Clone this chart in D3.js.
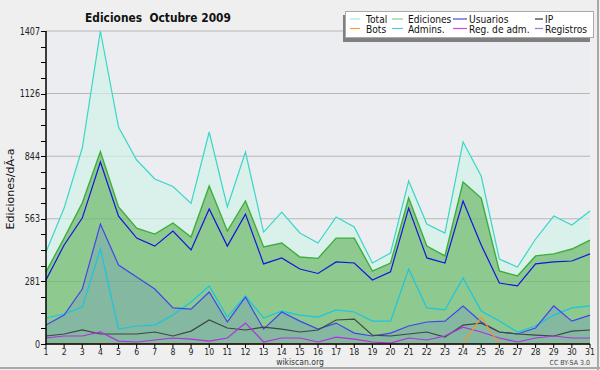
<!DOCTYPE html>
<html><head><meta charset="utf-8">
<script src="https://cdn.jsdelivr.net/npm/d3@7"></script>
<style>
html,body{margin:0;padding:0;background:#efefef;}
svg{display:block;}
text{font-family:"DejaVu Sans",sans-serif;}
</style></head>
<body>
<svg id="c" width="600" height="370"></svg>
<script>
const days = d3.range(1, 32);
const total = [414,611,881,1407,975,827,742,708,632,953,616,863,503,593,499,454,571,526,364,409,733,539,499,908,755,382,346,472,575,535,598];
const ediciones = [324,476,634,865,616,521,494,544,481,710,508,643,436,454,391,385,476,476,328,364,656,440,396,728,656,328,306,396,405,427,467];
const usuarios = [288,445,566,818,575,476,440,508,423,607,440,584,360,387,337,317,369,364,288,324,611,387,364,643,445,274,261,360,369,373,405];
const ip = [36,45,63,45,45,45,54,36,58,108,72,63,76,67,54,63,108,112,40,36,45,54,31,85,94,54,45,40,36,58,63];
const bots = [0,0,0,0,0,0,0,0,0,0,0,0,0,0,0,0,0,0,0,0,0,0,0,0,121,0,0,0,0,0,0];
const admins = [117,135,166,427,67,81,85,130,189,261,121,216,117,148,130,121,153,144,103,103,337,162,153,297,148,103,54,81,130,162,171];
const regAdm = [27,36,36,54,13,9,18,27,22,13,27,94,9,27,27,9,31,22,9,4,27,18,36,76,54,27,9,27,36,27,27];
const registros = [85,130,247,539,355,301,247,162,157,234,99,211,67,144,103,67,94,49,36,49,81,99,103,171,99,54,45,72,171,103,130];
const yMajor = [0,281,563,844,1126,1407];
const yMinorStep = 1407/20;
const legendNames = ["Total","Ediciones","Usuarios","IP","Bots","Admins.","Reg. de adm.","Registros"];
const legendColors = ["#a8e4dc","#86d086","#4a4ae0","#303030","#f0a040","#48d0e0","#d048e0","#8080f0"];

const svg = d3.select("#c");
const x = d3.scaleLinear().domain([1,31]).range([46,590]);
const y = d3.scaleLinear().domain([0,1407]).range([344,31]);

// condensed text helper
function ctext(parent, tx, ty, str, opts){
  const g = parent.append("g").attr("transform",`translate(${tx},${ty}) scale(${opts.sx||1},1)`);
  const t = g.append("text").attr("x",0).attr("y",0)
    .attr("font-size",opts.size).attr("fill",opts.fill||"#111")
    .attr("text-anchor",opts.anchor||"start")
    .attr("font-weight",opts.weight||"normal")
    .style("white-space","pre")
    .text(str);
  return t;
}

// frame
svg.append("rect").attr("x",0).attr("y",0).attr("width",600).attr("height",370).attr("fill","#efefef");
svg.append("line").attr("x1",598).attr("x2",598).attr("y1",0).attr("y2",370).attr("stroke","#a8a8a8").attr("stroke-width",2);
svg.append("line").attr("x1",0).attr("x2",600).attr("y1",368).attr("y2",368).attr("stroke","#a8a8a8").attr("stroke-width",2);
// plot bg
svg.append("rect").attr("x",x(1)).attr("y",y(1407)).attr("width",x(31)-x(1)).attr("height",y(0)-y(1407)).attr("fill","#ecedf0");

// grid under
svg.append("g").selectAll("line").data(yMajor.slice(1)).join("line")
  .attr("x1",x(1)).attr("x2",x(31)).attr("y1",d=>y(d)).attr("y2",d=>y(d))
  .attr("stroke","#c6c6c8").attr("stroke-width",1);

const area = (arr)=>d3.area().x((d,i)=>x(days[i])).y0(y(0)).y1(d=>y(d))(arr);
const line = (arr)=>d3.line().x((d,i)=>x(days[i])).y(d=>y(d))(arr);

svg.append("path").attr("d",area(total)).attr("fill","#d9f1ea");
svg.append("path").attr("d",area(ediciones)).attr("fill","#8ec98f");
svg.append("path").attr("d",area(registros)).attr("fill","#84b8a0");

// grid overlay
svg.append("g").selectAll("line").data(yMajor.slice(1)).join("line")
  .attr("x1",x(1)).attr("x2",x(31)).attr("y1",d=>y(d)).attr("y2",d=>y(d))
  .attr("stroke","#000").attr("stroke-opacity",0.07).attr("stroke-width",1);

const lines = [
  [total,"#3ad6c8",1.2],
  [ediciones,"#3cae3c",1.4],
  [usuarios,"#1414e0",1.2],
  [admins,"#18c6e2",1.2],
  [registros,"#4444ee",1.2],
  [ip,"#3e4646",1.2],
  [regAdm,"#b030e0",1.2],
  [bots,"#f09a28",1.2]
];
lines.forEach(([arr,c,w])=>{
  svg.append("path").attr("d",line(arr)).attr("fill","none").attr("stroke",c).attr("stroke-width",w);
});

// axes
const ya = svg.append("g").attr("transform",`translate(${x(1)},0)`);
ya.append("line").attr("x1",0).attr("x2",0).attr("y1",y(1407)).attr("y2",y(0)).attr("stroke","#000").attr("stroke-width",1.5);
const minorTicks = d3.range(0,21).map(i=>i*yMinorStep);
ya.selectAll("line.mt").data(minorTicks).join("line").attr("class","mt")
  .attr("x1",-5).attr("x2",0).attr("y1",d=>Math.round(y(d))+0.5).attr("y2",d=>Math.round(y(d))+0.5)
  .attr("stroke","#000").attr("stroke-width",1);
yMajor.forEach(d=>{
  ctext(ya, -6, y(d)+3.5, String(d), {size:10, sx:0.8, anchor:"end", fill:"#222"});
});

const xa = svg.append("g");
xa.append("line").attr("x1",x(1)-1).attr("x2",x(31)).attr("y1",344).attr("y2",344).attr("stroke","#000").attr("stroke-width",1.5);
xa.selectAll("line.t").data(days).join("line").attr("class","t")
  .attr("x1",d=>x(d)).attr("x2",d=>x(d)).attr("y1",344).attr("y2",348).attr("stroke","#000");
days.forEach(d=>{
  ctext(xa, x(d), 354.5, String(d), {size:9.5, sx:0.82, anchor:"middle", fill:"#222"});
});

// y label
svg.append("text").attr("transform","translate(14,189) rotate(-90)").attr("text-anchor","middle")
  .attr("font-size",11).attr("fill","#111").text("Ediciones/dÃ-a");

// title
ctext(svg, 158, 21.5, "Ediciones  Octubre 2009", {size:13, sx:0.82, anchor:"middle", weight:"bold", fill:"#111"});

// footer
ctext(svg, 300, 365, "wikiscan.org", {size:9, sx:0.85, anchor:"middle", fill:"#333"});
ctext(svg, 590, 364.5, "CC BY-SA 3.0", {size:7, sx:0.9, anchor:"end", fill:"#444"});

// legend
const lg = svg.append("g");
lg.append("rect").attr("x",343).attr("y",15).attr("width",247).attr("height",27).attr("fill","#808080");
lg.append("rect").attr("x",345.5).attr("y",11.5).attr("width",248).attr("height",26).attr("fill","#fff").attr("stroke","#aaa");
const colX = [350,392,453,535];
const txtX = [366,408,469,545];
const swW = [10,11,14,8];
legendNames.forEach((n,i)=>{
  const c = i%4, r = Math.floor(i/4);
  const yy = r===0?19:28.5;
  lg.append("line").attr("x1",colX[c]).attr("x2",colX[c]+swW[c]).attr("y1",yy).attr("y2",yy)
    .attr("stroke",legendColors[i]).attr("stroke-width",1.2);
  ctext(lg, txtX[c], yy+4, n, {size:11, sx:0.83, fill:"#111"});
});
</script>
</body></html>
